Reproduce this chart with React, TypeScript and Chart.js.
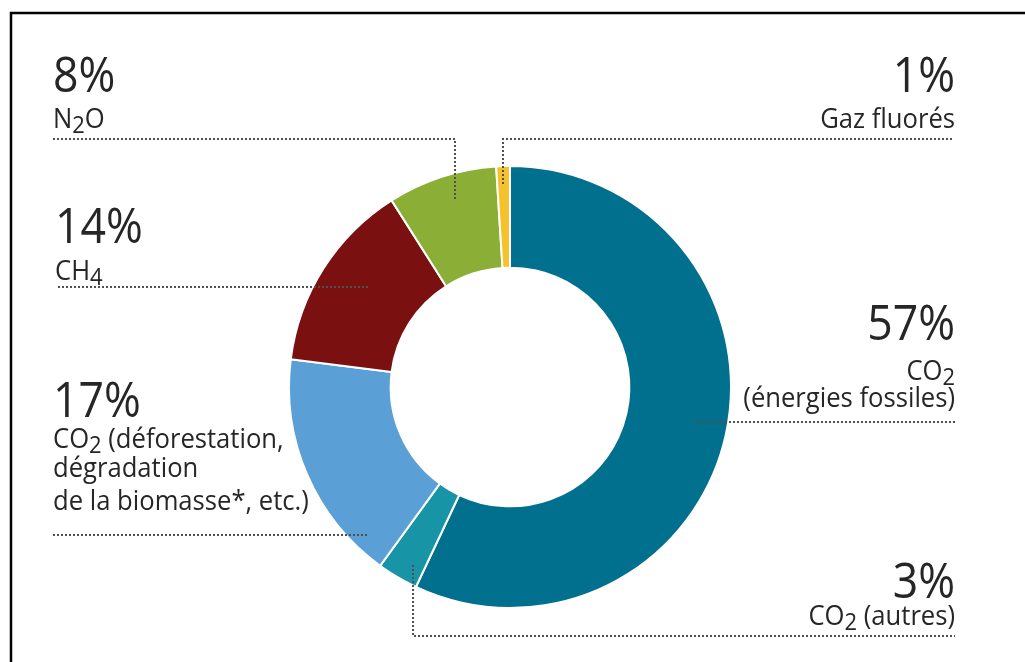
import React, { useEffect, useRef } from 'react';
import { Chart, registerables } from 'chart.js';

Chart.register(...registerables);

// ---- Data ----
const categories = [
  'CO2 (énergies fossiles)',
  'CO2 (autres)',
  'CO2 (déforestation, dégradation de la biomasse*, etc.)',
  'CH4',
  'N2O',
  'Gaz fluorés',
];
const shares = [57, 3, 17, 14, 8, 1];
const percentLabels = ['57%', '3%', '17%', '14%', '8%', '1%'];
// "_" marks the next character as a subscript
const nameLines = [
  ['CO_2', '(énergies fossiles)'],
  ['CO_2 (autres)'],
  ['CO_2 (déforestation,', 'dégradation', 'de la biomasse*, etc.)'],
  ['CH_4'],
  ['N_2O'],
  ['Gaz fluorés'],
];
const sliceColors = ['#016f8e', '#1894a7', '#5a9fd5', '#7b1011', '#8bae36', '#f6c22c'];

// ---- Layout of annotations (positions only) ----
type LabelLayout = {
  align: 'left' | 'right';
  x: number;
  pctBaseline: number;
  lineBaselines: number[];
  leader: [number, number][];
};
const labelLayout: LabelLayout[] = [
  { align: 'right', x: 955, pctBaseline: 340, lineBaselines: [380, 407], leader: [[693, 422], [955, 422]] },
  { align: 'right', x: 955, pctBaseline: 598, lineBaselines: [625], leader: [[413, 565], [413, 636], [955, 636]] },
  { align: 'left', x: 53, pctBaseline: 417, lineBaselines: [448, 477, 510], leader: [[53, 535], [367, 535]] },
  { align: 'left', x: 55, pctBaseline: 243, lineBaselines: [280], leader: [[58, 287], [368, 287]] },
  { align: 'left', x: 53, pctBaseline: 92, lineBaselines: [128], leader: [[53, 139], [455, 139], [455, 200]] },
  { align: 'right', x: 955, pctBaseline: 92, lineBaselines: [128], leader: [[952, 139], [503, 139], [503, 184]] },
];

const FONT = '"Open Sans", "Noto Sans", sans-serif';
const TEXT_COLOR = '#262626';
const PCT_SIZE = 49;
const PCT_SCALE_X = 0.91;
const NAME_SIZE = 28;
const NAME_SCALE_X = 0.915;

type Seg = { t: string; sub: boolean };
function parseRich(s: string): Seg[] {
  const segs: Seg[] = [];
  let buf = '';
  for (let i = 0; i < s.length; i++) {
    if (s[i] === '_' && i + 1 < s.length) {
      if (buf) segs.push({ t: buf, sub: false });
      buf = '';
      segs.push({ t: s[i + 1], sub: true });
      i++;
    } else buf += s[i];
  }
  if (buf) segs.push({ t: buf, sub: false });
  return segs;
}

function drawRich(
  ctx: CanvasRenderingContext2D,
  text: string,
  x: number,
  y: number,
  size: number,
  scaleX: number,
  align: 'left' | 'right'
) {
  const segs = parseRich(text);
  const subSize = Math.round(size * 0.85);
  const widths = segs.map((s) => {
    ctx.font = `${s.sub ? subSize : size}px ${FONT}`;
    return ctx.measureText(s.t).width;
  });
  const total = widths.reduce((a, b) => a + b, 0) * scaleX;
  let cx = align === 'left' ? x : x - total;
  ctx.save();
  ctx.fillStyle = TEXT_COLOR;
  ctx.textBaseline = 'alphabetic';
  ctx.textAlign = 'left';
  segs.forEach((s, i) => {
    ctx.font = `${s.sub ? subSize : size}px ${FONT}`;
    ctx.save();
    ctx.translate(cx, y + (s.sub ? size * 0.18 : 0));
    ctx.scale(scaleX, 1);
    ctx.fillText(s.t, 0, 0);
    ctx.restore();
    cx += widths[i] * scaleX;
  });
  ctx.restore();
}

const framePlugin = {
  id: 'frame',
  beforeDraw(chart: any) {
    const ctx = chart.ctx as CanvasRenderingContext2D;
    ctx.save();
    ctx.fillStyle = '#ffffff';
    ctx.fillRect(0, 0, chart.width, chart.height);
    ctx.strokeStyle = '#000000';
    ctx.lineWidth = 2.5;
    ctx.beginPath();
    ctx.moveTo(11, chart.height + 5);
    ctx.lineTo(11, 13);
    ctx.lineTo(chart.width + 5, 13);
    ctx.stroke();
    ctx.restore();
  },
};

const labelsPlugin = {
  id: 'calloutLabels',
  afterDatasetsDraw(chart: any) {
    const ctx = chart.ctx as CanvasRenderingContext2D;
    labelLayout.forEach((lay, i) => {
      ctx.save();
      ctx.strokeStyle = '#505050';
      ctx.lineWidth = 2;
      ctx.setLineDash([2, 2]);
      ctx.beginPath();
      lay.leader.forEach(([px, py], k) => (k === 0 ? ctx.moveTo(px, py) : ctx.lineTo(px, py)));
      ctx.stroke();
      ctx.restore();
      drawRich(ctx, percentLabels[i], lay.x, lay.pctBaseline, PCT_SIZE, PCT_SCALE_X, lay.align);
      nameLines[i].forEach((line, k) => {
        drawRich(ctx, line, lay.x, lay.lineBaselines[k], NAME_SIZE, NAME_SCALE_X, lay.align);
      });
    });
  },
};

export default function App() {
  const ref = useRef<HTMLCanvasElement | null>(null);
  useEffect(() => {
    if (!ref.current) return;
    const chart = new Chart(ref.current, {
      type: 'doughnut',
      data: {
        labels: categories,
        datasets: [
          {
            data: shares,
            backgroundColor: sliceColors,
            borderColor: '#ffffff',
            borderWidth: 2,
            hoverOffset: 0,
          },
        ],
      },
      options: {
        responsive: false,
        animation: false,
        devicePixelRatio: 1,
        cutout: '54%',
        rotation: 0,
        layout: { padding: { top: 165, bottom: 53, left: 288, right: 293 } },
        plugins: {
          legend: { display: false },
          tooltip: { enabled: false },
          title: { display: false },
        },
      },
      plugins: [framePlugin, labelsPlugin],
    });
    return () => chart.destroy();
  }, []);
  return (
    <div style={{ position: 'fixed', left: 0, top: 0, width: 1025, height: 662, background: '#fff' }}>
      <canvas ref={ref} width={1025} height={662} style={{ display: 'block' }} />
    </div>
  );
}
